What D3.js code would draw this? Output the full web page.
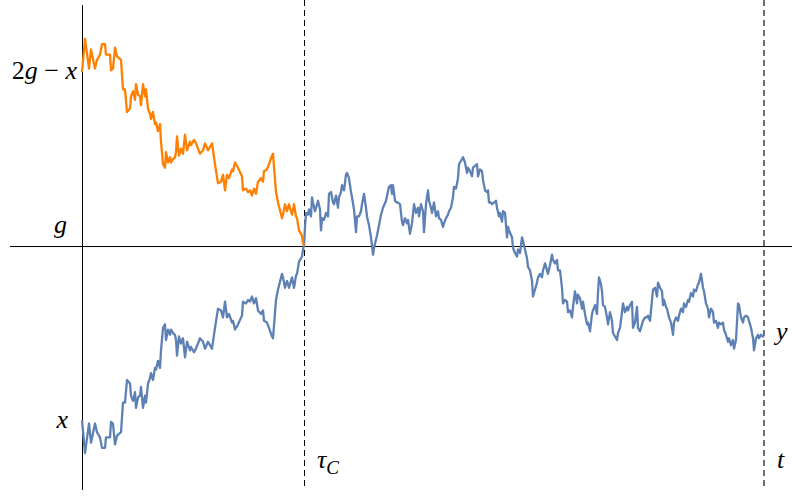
<!DOCTYPE html>
<html><head><meta charset="utf-8">
<script src="https://cdn.jsdelivr.net/npm/d3@7"></script>
<style>body{margin:0;background:#fff}svg{display:block}
text{font-family:"Liberation Serif","DejaVu Serif",serif;}</style>
</head><body><svg id="c" width="792" height="496"></svg>
<script>
// time steps of the walk (0 .. T)
const times = [0,3,7,9,13,15,18,20,23,24,28,29,31,33,35,39,41,43,45,48,49,51,53,54,56,58,59,61,63,64,66,68,69,71,73,74,76,78,79,81,83,84,86,88,89,91,93,94,95,97,99,101,103,105,108,109,112,114,118,121,123,126,130,133,136,139,141,143,145,147,150,151,153,156,160,161,164,166,168,170,172,174,176,179,181,182,185,187,190,191,194,196,200,201,203,205,207,210,212,214,215,217,220,221,222,
223,224,226,227,229,230,231,233,235,236,238,239,240,242,244,246,247,249,251,252,254,256,257,259,260,262,264,265,267,269,270,272,274,275,277,279,280,282,284,285,287,289,291,292,295,297,299,301,304,307,309,310,311,313,315,316,318,320,321,323,325,326,328,330,332,334,336,337,339,341,342,344,346,347,349,350,352,354,356,357,359,361,362,364,366,367,369,371,372,374,376,377,379,381,383,385,386,388,390,391,393,395,396,398,400,401,403,405,406,407,409,410,412,414,415,417,418,420,421,423,425,426,427,430,431,433,435,436,438,440,441,443,445,446,448,450,451,453,455,456,458,460,461,463,465,466,468,470,471,473,475,476,478,480,481,483,485,486,488,490,491,493,495,496,498,500,501,503,505,506,508,510,511,513,515,516,517,519,520,521,523,525,526,528,530,531,533,535,536,538,540,541,543,545,546,548,550,551,553,555,556,558,560,561,563,565,566,568,570,571,573,575,576,578,580,581,582,584,585,587,589,591,592,594,596,597,599,601,602,604,606,607,609,611,612,614,616,617,619,621,622,624,626,627,629,631,632,634,636,637,639,641,642,644,646,647,649,651,652,654,656,657,659,661,662,664,666,667,669,671,672,674,676,677,679,681,682];
// walk values (g = 0, start x = -1)
const values = [-1.00,-1.19,-1.02,-1.13,-1.02,-1.07,-1.10,-1.16,-1.16,-1.10,-1.10,-1.01,-1.02,-1.14,-1.09,-1.07,-0.90,-0.90,-0.77,-0.79,-0.86,-0.89,-0.84,-0.93,-0.87,-0.86,-0.81,-0.93,-0.86,-0.90,-0.79,-0.76,-0.73,-0.77,-0.70,-0.71,-0.66,-0.70,-0.60,-0.47,-0.45,-0.54,-0.48,-0.51,-0.48,-0.50,-0.51,-0.54,-0.63,-0.52,-0.56,-0.53,-0.64,-0.55,-0.60,-0.58,-0.61,-0.59,-0.53,-0.55,-0.59,-0.55,-0.59,-0.47,-0.36,-0.37,-0.41,-0.32,-0.41,-0.39,-0.44,-0.43,-0.48,-0.45,-0.40,-0.32,-0.33,-0.31,-0.32,-0.29,-0.33,-0.30,-0.37,-0.39,-0.37,-0.43,-0.44,-0.47,-0.52,-0.53,-0.31,-0.25,-0.16,-0.18,-0.24,-0.20,-0.24,-0.18,-0.24,-0.17,-0.16,-0.09,-0.06,-0.02,0.00,
0.11,0.19,0.18,0.21,0.17,0.28,0.25,0.20,0.24,0.26,0.21,0.09,0.16,0.15,0.19,0.17,0.30,0.31,0.25,0.24,0.29,0.22,0.28,0.31,0.35,0.32,0.41,0.42,0.39,0.31,0.28,0.21,0.08,0.17,0.17,0.20,0.24,0.30,0.22,0.17,0.12,0.05,-0.05,-0.01,0.06,0.12,0.18,0.22,0.26,0.34,0.35,0.30,0.35,0.26,0.25,0.25,0.24,0.14,0.12,0.16,0.13,0.15,0.07,0.13,0.24,0.19,0.22,0.17,0.24,0.20,0.08,0.24,0.32,0.26,0.22,0.19,0.25,0.17,0.20,0.16,0.15,0.11,0.13,0.16,0.18,0.20,0.22,0.28,0.34,0.33,0.39,0.47,0.49,0.51,0.48,0.42,0.45,0.43,0.40,0.45,0.46,0.47,0.40,0.44,0.43,0.38,0.32,0.31,0.32,0.25,0.25,0.24,0.25,0.26,0.22,0.17,0.19,0.14,0.20,0.19,0.05,0.11,0.09,0.05,-0.01,-0.04,-0.06,-0.02,-0.04,0.05,0.03,-0.02,-0.07,-0.12,-0.14,-0.20,-0.29,-0.25,-0.21,-0.18,-0.16,-0.18,-0.14,-0.10,-0.14,-0.16,-0.11,-0.05,-0.08,-0.10,-0.08,-0.14,-0.14,-0.24,-0.33,-0.31,-0.32,-0.38,-0.37,-0.41,-0.35,-0.26,-0.33,-0.28,-0.30,-0.36,-0.32,-0.39,-0.45,-0.44,-0.49,-0.39,-0.37,-0.34,-0.39,-0.27,-0.18,-0.22,-0.26,-0.34,-0.35,-0.41,-0.45,-0.38,-0.43,-0.50,-0.52,-0.54,-0.50,-0.47,-0.38,-0.33,-0.38,-0.35,-0.37,-0.34,-0.32,-0.47,-0.44,-0.35,-0.47,-0.49,-0.45,-0.43,-0.41,-0.41,-0.40,-0.43,-0.31,-0.25,-0.24,-0.29,-0.21,-0.24,-0.26,-0.34,-0.31,-0.35,-0.36,-0.41,-0.44,-0.51,-0.44,-0.41,-0.43,-0.40,-0.36,-0.38,-0.33,-0.35,-0.31,-0.32,-0.27,-0.29,-0.25,-0.26,-0.22,-0.21,-0.16,-0.24,-0.26,-0.33,-0.36,-0.41,-0.36,-0.38,-0.44,-0.43,-0.47,-0.44,-0.45,-0.44,-0.48,-0.51,-0.55,-0.53,-0.57,-0.54,-0.59,-0.54,-0.33,-0.34,-0.41,-0.44,-0.41,-0.40,-0.41,-0.43,-0.47,-0.53,-0.60,-0.53,-0.51,-0.53,-0.51,-0.52,-0.51];
const level = 0;       // g
const tauC = 222;      // hitting time
const tEnd = 682;      // t
const yLabels = [
  {v: 1, parts: [["2", false], ["g", true], [" \u2212 ", false], ["x", true]]},
  {v: 0, parts: [["g", true]]},
  {v: -1, parts: [["x", true]]}
];
const xLabels = [{t: tauC, main: "\u03c4", sub: "C"}, {t: tEnd, main: "t", sub: ""}];
const endLabel = "y";

const data = times.map((t, i) => ({t, v: values[i]}));
const reflected = data.filter(d => d.t <= tauC).map(d => ({t: d.t, v: 2 * level - d.v}));

const svg = d3.select("#c");
const x = d3.scaleLinear().domain([-72, 710]).range([10, 792]);
const y = d3.scaleLinear().domain([-1.402, 1.385]).range([490, 5]);
const h = 0.5; // crisp-line offset

// axes
svg.append("line").attr("x1", x(-72)).attr("x2", x(710)).attr("y1", y(level) + h).attr("y2", y(level) + h)
  .attr("stroke", "#000").attr("stroke-width", 1);
svg.append("line").attr("x1", x(0) + h).attr("x2", x(0) + h).attr("y1", y(1.385)).attr("y2", y(-1.402))
  .attr("stroke", "#000").attr("stroke-width", 1);

// dashed verticals
svg.append("line").attr("x1", x(tauC) + h).attr("x2", x(tauC) + h).attr("y1", 0).attr("y2", y(-1.402))
  .attr("stroke", "#000").attr("stroke-width", 1).attr("stroke-dasharray", "6,4");
svg.append("line").attr("x1", x(tEnd)).attr("x2", x(tEnd)).attr("y1", 0).attr("y2", y(-1.402))
  .attr("stroke", "#707070").attr("stroke-width", 2).attr("stroke-dasharray", "6,4");

const line = d3.line().x(d => x(d.t)).y(d => y(d.v));
svg.append("path").datum(data).attr("d", line).attr("fill", "none")
  .attr("stroke", "#5e81b5").attr("stroke-width", 2.3).attr("stroke-linejoin", "round");
svg.append("path").datum(reflected).attr("d", line).attr("fill", "none")
  .attr("stroke", "#ff8000").attr("stroke-width", 2.3).attr("stroke-linejoin", "round");

// y labels
const yOff = {"1": 7, "0": -13, "-1": 8};
const xRight = {"1": 77, "0": 67, "-1": 68};
yLabels.forEach(l => {
  const tx = svg.append("text").attr("x", xRight[l.v]).attr("y", y(l.v) + yOff[l.v])
    .attr("text-anchor", "end").attr("font-size", 26);
  l.parts.forEach(p => tx.append("tspan").text(p[0]).attr("font-style", p[1] ? "italic" : "normal")
    .attr("xml:space", "preserve"));
});
// x labels
xLabels.forEach(l => {
  const tx = svg.append("text").attr("x", x(l.t) + 13).attr("y", 468)
    .attr("font-size", 26).attr("font-style", "italic");
  tx.append("tspan").text(l.main);
  if (l.sub) tx.append("tspan").text(l.sub).attr("font-size", 19).attr("dy", 6);
});
svg.append("text").attr("x", x(tEnd) + 12).attr("y", y(values[values.length - 1]) + 5)
  .attr("font-size", 26).attr("font-style", "italic").text(endLabel);
</script></body></html>
